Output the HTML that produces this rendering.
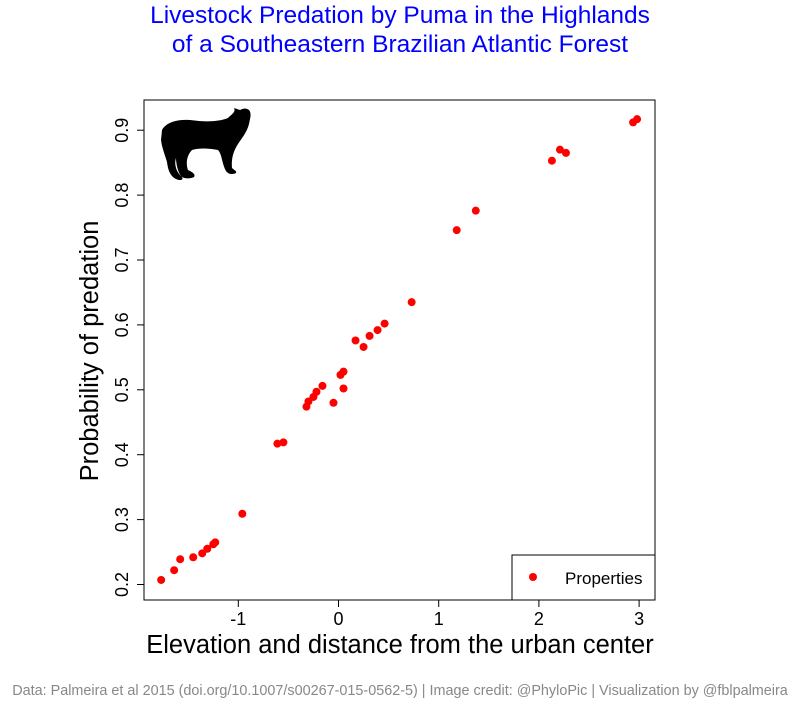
<!DOCTYPE html>
<html><head><meta charset="utf-8"><style>
body{margin:0;background:#fff;}
svg text{font-family:"Liberation Sans",Arial,sans-serif;}
</style></head><body>
<svg id="chart" width="800" height="700" xmlns="http://www.w3.org/2000/svg">
<rect width="800" height="700" fill="#fff"/>
<text x="400" y="23" font-size="24.5" fill="#0000ff" text-anchor="middle">Livestock Predation by Puma in the Highlands</text>
<text x="400" y="52" font-size="24.5" fill="#0000ff" text-anchor="middle">of a Southeastern Brazilian Atlantic Forest</text>
<rect x="144" y="100" width="511" height="500" fill="none" stroke="#000" stroke-width="1"/>
<g id="xaxis"></g>
<g id="yaxis"></g>
<text x="400" y="653" font-size="25.5" text-anchor="middle">Elevation and distance from the urban center</text>
<text transform="translate(98,351) rotate(-90)" font-size="25.5" text-anchor="middle">Probability of predation</text>
<path fill="#000" d="M162,130 C166,122 178,119 190,120 C205,122 218,122 228,118 C232,114 236,112 234,108 L240,110 C244,108 246,108 249,110 C252,114 250,118 249,124 C247,132 242,138 238,144 C234,150 231,158 232,168 C234,170 237,171 236,173 C232,175 228,174 226,171 C222,164 222,154 218,150 C208,148 198,148 192,150 C186,156 186,165 188,170 C192,172 196,174 194,177 C190,179 184,179 181,176 C178,172 176,164 176,158 C174,164 176,172 182,177 C184,180 180,181 176,179 C170,176 168,170 167,162 C165,155 162,148 161,140 Z"/>
<g id="points"></g>
<rect x="512" y="555" width="143" height="45" fill="#fff" stroke="#000"/>
<circle cx="533" cy="577" r="4" fill="#ff0000"/>
<text x="565" y="584" font-size="17">Properties</text>
<text x="400" y="695" font-size="14.4" fill="#888" text-anchor="middle">Data: Palmeira et al 2015 (doi.org/10.1007/s00267-015-0562-5) | Image credit: @PhyloPic | Visualization by @fblpalmeira</text>
</svg>
<script>
const xTicks=[-1,0,1,2,3];
const yTicks=[0.2,0.3,0.4,0.5,0.6,0.7,0.8,0.9];
const xValues=[-1.77,-1.64,-1.58,-1.45,-1.36,-1.31,-1.25,-1.23,-0.96,-0.61,-0.55,-0.32,-0.30,-0.25,-0.22,-0.16,-0.05,0.02,0.05,0.05,0.17,0.25,0.31,0.39,0.46,0.73,1.37,1.18,2.13,2.21,2.27,2.94,2.98];
const yValues=[0.207,0.222,0.239,0.242,0.248,0.255,0.262,0.265,0.309,0.417,0.419,0.474,0.482,0.489,0.497,0.506,0.480,0.523,0.528,0.502,0.576,0.566,0.583,0.592,0.602,0.635,0.776,0.746,0.853,0.870,0.865,0.912,0.917];
const NS='http://www.w3.org/2000/svg';
function sx(v){return 338.5+v*100.2;}
function sy(v){return 584.5-(v-0.2)*649;}
const xa=document.getElementById('xaxis'),ya=document.getElementById('yaxis'),pts=document.getElementById('points');
xTicks.forEach(t=>{
 const l=document.createElementNS(NS,'line');
 
 
 l.setAttribute('x1',sx(t));l.setAttribute('x2',sx(t));l.setAttribute('y1',600);l.setAttribute('y2',607);l.setAttribute('stroke','#000');
 xa.appendChild(l);
 const tx=document.createElementNS(NS,'text');
 
 
 tx.setAttribute('x',sx(t));tx.setAttribute('y',625);tx.setAttribute('font-size','18');tx.setAttribute('text-anchor','middle');
 tx.textContent=String(t);xa.appendChild(tx);
});
yTicks.forEach(t=>{
 const l=document.createElementNS(NS,'line');
 
 
 l.setAttribute('x1',137);l.setAttribute('x2',144);l.setAttribute('y1',sy(t));l.setAttribute('y2',sy(t));l.setAttribute('stroke','#000');
 ya.appendChild(l);
 const tx=document.createElementNS(NS,'text');
 
 
 tx.setAttribute('transform','translate(128,'+sy(t)+') rotate(-90)');tx.setAttribute('font-size','18');tx.setAttribute('text-anchor','middle');
 tx.textContent=t.toFixed(1);ya.appendChild(tx);
});
xValues.forEach((x,i)=>{
 const c=document.createElementNS(NS,'circle');
 
 
 c.setAttribute('cx',sx(x));c.setAttribute('cy',sy(yValues[i]));c.setAttribute('r',4);c.setAttribute('fill','#ff0000');
 pts.appendChild(c);
});
</script>
</body></html>
